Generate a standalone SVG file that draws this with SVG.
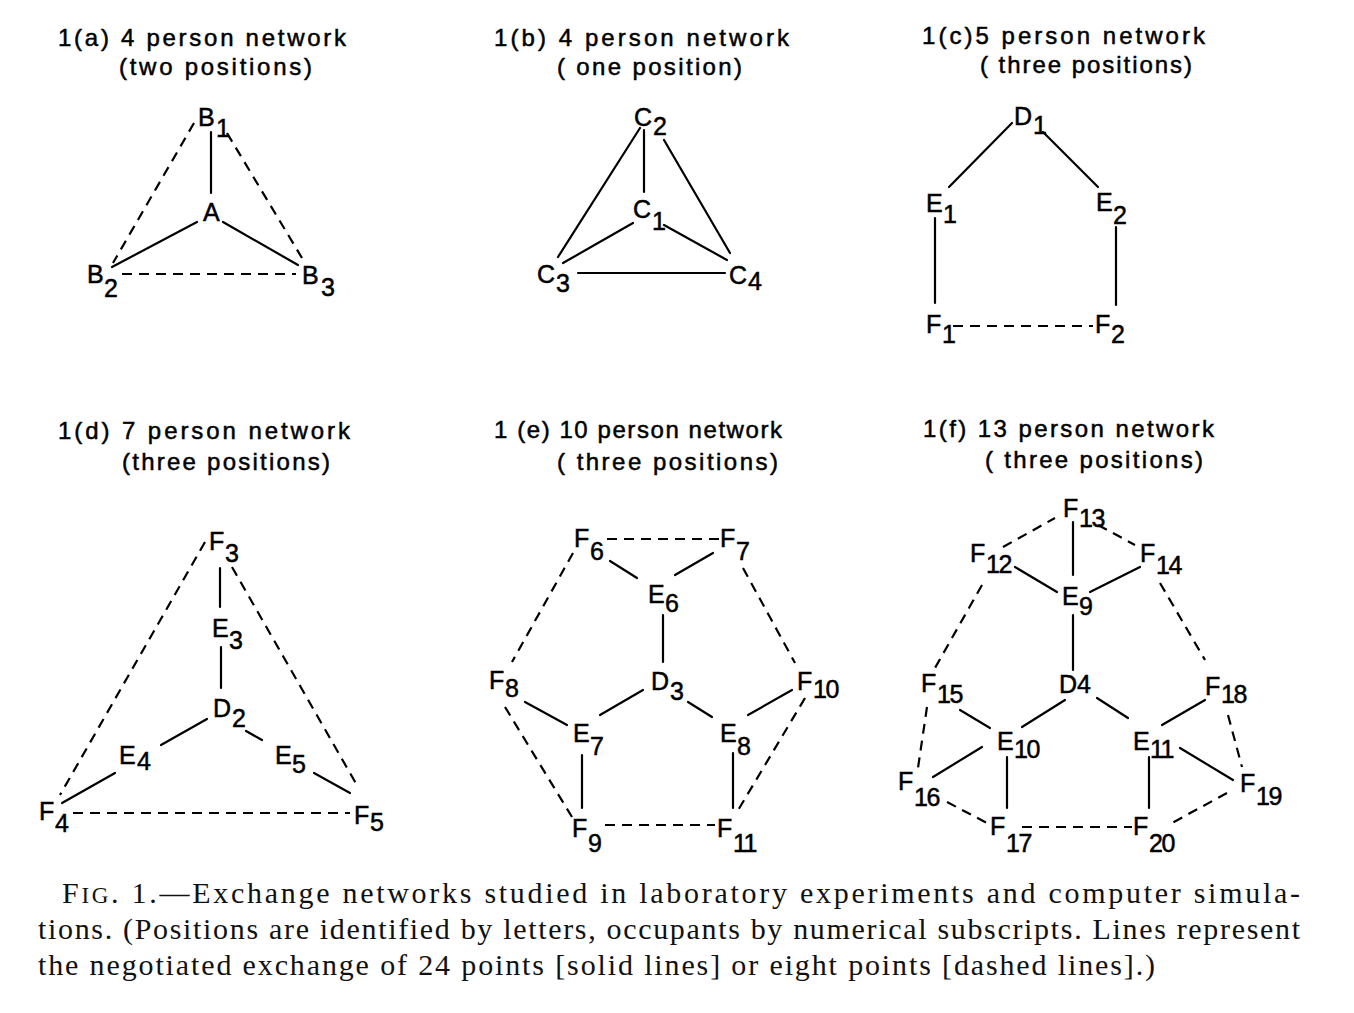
<svg xmlns="http://www.w3.org/2000/svg" width="1354" height="1013" viewBox="0 0 1354 1013">
<style>
.bg{fill:#fff}
.n{font-family:"Liberation Sans",Arial,sans-serif;font-size:25px;fill:#000;stroke:#000;stroke-width:0.5}
.k{letter-spacing:-1.5px}
.t{font-family:"Liberation Sans",Arial,sans-serif;font-size:24px;fill:#000;stroke:#000;stroke-width:0.5}
.cap{font-family:"Liberation Serif","Times New Roman",serif;font-size:30px;fill:#111}
.sc{font-size:23px}
.s{stroke:#000;stroke-width:2.2;fill:none;stroke-linecap:round}
.d{stroke:#000;stroke-width:2.2;fill:none;stroke-dasharray:10 7}
</style>
<rect class="bg" x="0" y="0" width="1354" height="1013"/>

<g id="titles">
<text class="t" x="58" y="46" textLength="288" lengthAdjust="spacing">1(a) 4 person network</text>
<text class="t" x="119" y="75" textLength="193" lengthAdjust="spacing">(two positions)</text>
<text class="t" x="494" y="46" textLength="295" lengthAdjust="spacing">1(b) 4 person network</text>
<text class="t" x="557" y="75" textLength="185" lengthAdjust="spacing">( one position)</text>
<text class="t" x="922" y="44" textLength="283" lengthAdjust="spacing">1(c)5 person network</text>
<text class="t" x="980" y="73" textLength="212" lengthAdjust="spacing">( three positions)</text>
<text class="t" x="58" y="439" textLength="292" lengthAdjust="spacing">1(d) 7 person network</text>
<text class="t" x="122" y="470" textLength="208" lengthAdjust="spacing">(three positions)</text>
<text class="t" x="494" y="438" textLength="288" lengthAdjust="spacing">1 (e) 10 person network</text>
<text class="t" x="557" y="470" textLength="221" lengthAdjust="spacing">( three positions)</text>
<text class="t" x="923" y="437" textLength="291" lengthAdjust="spacing">1(f) 13 person network</text>
<text class="t" x="985" y="468" textLength="218" lengthAdjust="spacing">( three positions)</text>
</g>

<g id="connectors">
<!-- (a) -->
<line class="s" x1="211" y1="132" x2="211" y2="193"/>
<line class="s" x1="197" y1="222" x2="112" y2="267"/>
<line class="s" x1="223" y1="222" x2="298" y2="265"/>
<line class="d" x1="122" y1="274" x2="296" y2="274"/>
<line class="d" x1="194" y1="123" x2="113" y2="263"/>
<line class="d" x1="227" y1="133" x2="302" y2="258"/>
<!-- (b) -->
<line class="s" x1="644" y1="130" x2="644" y2="192"/>
<line class="s" x1="640" y1="128" x2="558" y2="257"/>
<line class="s" x1="664" y1="140" x2="730" y2="253"/>
<line class="s" x1="633" y1="223" x2="563" y2="263"/>
<line class="s" x1="664" y1="225" x2="727" y2="260"/>
<line class="s" x1="578" y1="273" x2="725" y2="273"/>
<!-- (c) -->
<line class="s" x1="1012" y1="123" x2="949" y2="187"/>
<line class="s" x1="1043" y1="132" x2="1098" y2="187"/>
<line class="s" x1="935" y1="218" x2="935" y2="303"/>
<line class="s" x1="1116" y1="227" x2="1116" y2="305"/>
<line class="d" x1="953" y1="326" x2="1093" y2="326"/>
<!-- (d) -->
<line class="s" x1="220" y1="568" x2="220" y2="607"/>
<line class="s" x1="221" y1="647" x2="221" y2="688"/>
<line class="s" x1="207" y1="719" x2="161" y2="745"/>
<line class="s" x1="246" y1="731" x2="262" y2="740"/>
<line class="s" x1="115" y1="773" x2="62" y2="803"/>
<line class="s" x1="314" y1="773" x2="350" y2="793"/>
<line class="d" x1="205" y1="542" x2="60" y2="795"/>
<line class="d" x1="232" y1="567" x2="358" y2="787"/>
<line class="d" x1="73" y1="813" x2="350" y2="813"/>
<!-- (e) -->
<line class="d" x1="607" y1="539" x2="720" y2="539"/>
<line class="s" x1="610" y1="561" x2="637" y2="578"/>
<line class="s" x1="713" y1="553" x2="675" y2="575"/>
<line class="s" x1="663" y1="615" x2="663" y2="662"/>
<line class="s" x1="643" y1="690" x2="600" y2="715"/>
<line class="s" x1="688" y1="702" x2="712" y2="717"/>
<line class="s" x1="525" y1="702" x2="567" y2="725"/>
<line class="s" x1="792" y1="690" x2="748" y2="715"/>
<line class="s" x1="582" y1="755" x2="582" y2="808"/>
<line class="s" x1="733" y1="753" x2="733" y2="808"/>
<line class="d" x1="605" y1="825" x2="715" y2="825"/>
<line class="d" x1="573" y1="553" x2="512" y2="662"/>
<line class="d" x1="743" y1="568" x2="795" y2="663"/>
<line class="d" x1="505" y1="707" x2="572" y2="817"/>
<line class="d" x1="805" y1="698" x2="737" y2="812"/>
<!-- (f) -->
<line class="s" x1="1073" y1="522" x2="1073" y2="575"/>
<line class="s" x1="1015" y1="567" x2="1057" y2="592"/>
<line class="s" x1="1140" y1="567" x2="1090" y2="592"/>
<line class="s" x1="1073" y1="615" x2="1073" y2="670"/>
<line class="s" x1="1065" y1="700" x2="1022" y2="727"/>
<line class="s" x1="1097" y1="698" x2="1128" y2="718"/>
<line class="s" x1="960" y1="710" x2="990" y2="728"/>
<line class="s" x1="1205" y1="700" x2="1162" y2="725"/>
<line class="s" x1="982" y1="747" x2="933" y2="777"/>
<line class="s" x1="1180" y1="748" x2="1233" y2="780"/>
<line class="s" x1="1007" y1="757" x2="1007" y2="808"/>
<line class="s" x1="1149" y1="757" x2="1149" y2="808"/>
<line class="d" x1="1003" y1="547" x2="1055" y2="518"/>
<line class="d" x1="1098" y1="525" x2="1135" y2="545"/>
<line class="d" x1="982" y1="585" x2="935" y2="668"/>
<line class="d" x1="1160" y1="583" x2="1205" y2="660"/>
<line class="d" x1="927" y1="707" x2="918" y2="768"/>
<line class="d" x1="1228" y1="715" x2="1242" y2="767"/>
<line class="d" x1="947" y1="802" x2="987" y2="823"/>
<line class="d" x1="1022" y1="827" x2="1132" y2="827"/>
<line class="d" x1="1227" y1="793" x2="1172" y2="823"/>
</g>

<!-- (a) nodes -->
<g id="B1"><text class="n" x="198" y="126">B<tspan x="216" y="137">1</tspan></text></g>
<g id="A"><text class="n" x="203" y="221">A</text></g>
<g id="B2"><text class="n" x="87" y="283">B<tspan x="104" y="297">2</tspan></text></g>
<g id="B3"><text class="n" x="302" y="284">B<tspan x="321" y="296">3</tspan></text></g>
<!-- (b) nodes -->
<g id="C2"><text class="n" x="634" y="126">C<tspan x="653" y="135">2</tspan></text></g>
<g id="C1"><text class="n" x="633" y="218">C<tspan x="652" y="230">1</tspan></text></g>
<g id="C3"><text class="n" x="537" y="283">C<tspan x="556" y="292">3</tspan></text></g>
<g id="C4"><text class="n" x="729" y="284">C<tspan x="748" y="290">4</tspan></text></g>
<!-- (c) nodes -->
<g id="D1"><text class="n" x="1014" y="125">D<tspan x="1033" y="134">1</tspan></text></g>
<g id="E1"><text class="n" x="926" y="212">E<tspan x="943" y="223">1</tspan></text></g>
<g id="E2"><text class="n" x="1096" y="211">E<tspan x="1113" y="224">2</tspan></text></g>
<g id="F1"><text class="n" x="926" y="333">F<tspan x="942" y="343">1</tspan></text></g>
<g id="F2"><text class="n" x="1095" y="333">F<tspan x="1111" y="343">2</tspan></text></g>
<!-- (d) nodes -->
<g id="F3"><text class="n" x="209" y="550">F<tspan x="225" y="562">3</tspan></text></g>
<g id="E3"><text class="n" x="212" y="637">E<tspan x="229" y="649">3</tspan></text></g>
<g id="D2"><text class="n" x="213" y="717">D<tspan x="232" y="727">2</tspan></text></g>
<g id="E4"><text class="n" x="119" y="764">E<tspan x="137" y="770">4</tspan></text></g>
<g id="E5"><text class="n" x="275" y="764">E<tspan x="292" y="773">5</tspan></text></g>
<g id="F4"><text class="n" x="39" y="820">F<tspan x="55" y="832">4</tspan></text></g>
<g id="F5"><text class="n" x="354" y="824">F<tspan x="370" y="831">5</tspan></text></g>
<!-- (e) nodes -->
<g id="F6"><text class="n" x="574" y="547">F<tspan x="590" y="560">6</tspan></text></g>
<g id="F7"><text class="n" x="720" y="547">F<tspan x="736" y="560">7</tspan></text></g>
<g id="E6"><text class="n" x="648" y="603">E<tspan x="665" y="612">6</tspan></text></g>
<g id="D3"><text class="n" x="651" y="690">D<tspan x="670" y="700">3</tspan></text></g>
<g id="F8"><text class="n" x="489" y="689">F<tspan x="505" y="697">8</tspan></text></g>
<g id="F10"><text class="n" x="797" y="690">F<tspan class="k" x="813" y="698">10</tspan></text></g>
<g id="E7"><text class="n" x="573" y="742">E<tspan x="590" y="755">7</tspan></text></g>
<g id="E8"><text class="n" x="720" y="742">E<tspan x="737" y="755">8</tspan></text></g>
<g id="F9"><text class="n" x="572" y="837">F<tspan x="588" y="852">9</tspan></text></g>
<g id="F11"><text class="n" x="717" y="837">F<tspan class="k" x="733" y="852">11</tspan></text></g>
<!-- (f) nodes -->
<g id="F13"><text class="n" x="1063" y="517">F<tspan class="k" x="1079" y="527">13</tspan></text></g>
<g id="F12"><text class="n" x="970" y="562">F<tspan class="k" x="986" y="573">12</tspan></text></g>
<g id="F14"><text class="n" x="1140" y="562">F<tspan class="k" x="1156" y="574">14</tspan></text></g>
<g id="E9"><text class="n" x="1062" y="605">E<tspan x="1079" y="615">9</tspan></text></g>
<g id="D4"><text class="n" x="1059" y="693">D4</text></g>
<g id="F15"><text class="n" x="921" y="692">F<tspan class="k" x="937" y="703">15</tspan></text></g>
<g id="F18"><text class="n" x="1205" y="695">F<tspan class="k" x="1221" y="703">18</tspan></text></g>
<g id="E10"><text class="n" x="997" y="750">E<tspan class="k" x="1014" y="758">10</tspan></text></g>
<g id="E11"><text class="n" x="1133" y="750">E<tspan class="k" x="1150" y="758">11</tspan></text></g>
<g id="F16"><text class="n" x="898" y="790">F<tspan class="k" x="914" y="806">16</tspan></text></g>
<g id="F19"><text class="n" x="1240" y="792">F<tspan class="k" x="1256" y="805">19</tspan></text></g>
<g id="F17"><text class="n" x="990" y="835">F<tspan class="k" x="1006" y="852">17</tspan></text></g>
<g id="F20"><text class="n" x="1133" y="835">F<tspan class="k" x="1149" y="852">20</tspan></text></g>

<g id="caption">
<text class="cap" x="62" y="903" textLength="1238" lengthAdjust="spacing">F<tspan class="sc">IG</tspan>. 1.—Exchange networks studied in laboratory experiments and computer simula-</text>
<text class="cap" x="38" y="939" textLength="1262" lengthAdjust="spacing">tions. (Positions are identified by letters, occupants by numerical subscripts. Lines represent</text>
<text class="cap" x="38" y="975" textLength="1117" lengthAdjust="spacing">the negotiated exchange of 24 points [solid lines] or eight points [dashed lines].)</text>
</g>
</svg>
